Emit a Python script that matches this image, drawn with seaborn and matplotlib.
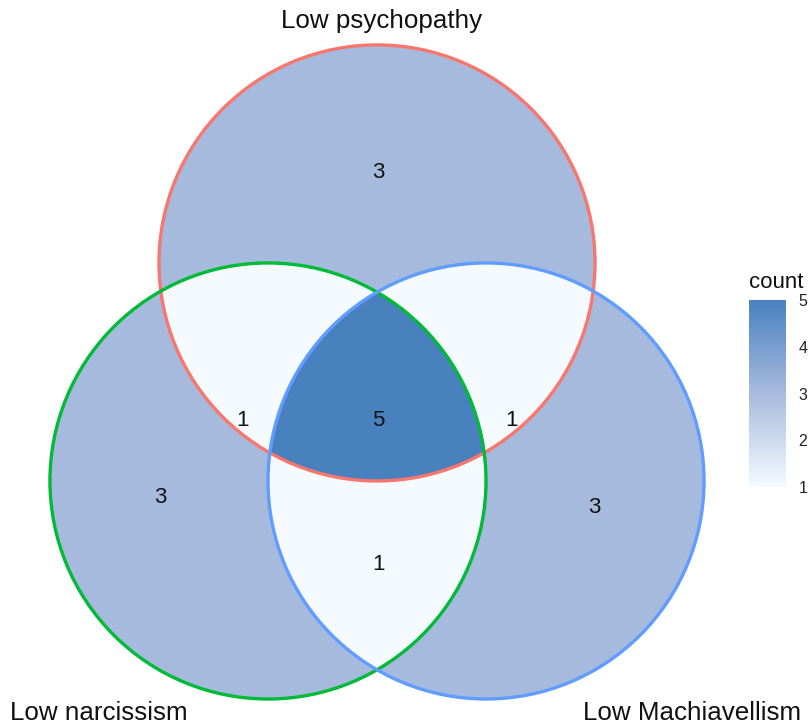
import matplotlib
matplotlib.use("Agg")
import matplotlib.pyplot as plt
from matplotlib.patches import Circle
import numpy as np
import seaborn as sns

# sets (order: top, left, right)
set_names = ["Low psychopathy", "Low narcissism", "Low Machiavellism"]
set_colors = ["#F8766D", "#00BA38", "#619CFF"]
circle_x = [0.5, 0.0, 1.0]
circle_y = [1.0, 0.0, 0.0]
radius = 1.0

# regions as membership in (top, left, right)
region_members = [(1, 0, 0), (0, 1, 0), (0, 0, 1),
                  (1, 1, 0), (1, 0, 1), (0, 1, 1), (1, 1, 1)]
region_counts = [3, 3, 3, 1, 1, 1, 5]
label_x = [0.505, -0.495, 1.495, -0.115, 1.119, 0.505, 0.505]
label_y = [1.415, -0.075, -0.120, 0.278, 0.278, -0.383, 0.278]

set_label_x = [0.522, -0.775, 1.945]
set_label_y = [2.110, -1.066, -1.066]

sns.set_theme(style="white")
plt.rcParams['font.family'] = ['Liberation Sans', 'DejaVu Sans']

cmap = sns.blend_palette(["#F4FAFE", "#A7BBDF", "#4981BF"], as_cmap=True)

fig = plt.figure(figsize=(8.12, 7.28), dpi=100)
ax = fig.add_axes([0, 0, 1, 1])
xlim = (-1.229, 2.495)
ylim = (-1.133, 2.206)

# rasterise region counts
xs = np.linspace(xlim[0], xlim[1], 1600)
ys = np.linspace(ylim[0], ylim[1], 1440)
gx, gy = np.meshgrid(xs, ys)
inside = [((gx - cx) ** 2 + (gy - cy) ** 2) <= radius ** 2
          for cx, cy in zip(circle_x, circle_y)]
grid = np.full(gx.shape, np.nan)
for mem, cnt in zip(region_members, region_counts):
    mask = np.ones(gx.shape, dtype=bool)
    for flag, ins in zip(mem, inside):
        mask &= ins if flag else ~ins
    grid[mask] = cnt

im = ax.imshow(grid, cmap=cmap, vmin=1, vmax=5, origin="lower",
               extent=(xlim[0], xlim[1], ylim[0], ylim[1]),
               interpolation="nearest")

for cx, cy, col in zip(circle_x, circle_y, set_colors):
    ax.add_patch(Circle((cx, cy), radius, fill=False, edgecolor=col, lw=2.4))

for x, y, c in zip(label_x, label_y, region_counts):
    ax.text(x, y, str(c), ha="center", va="center", fontsize=16, color="#111111")

for x, y, name in zip(set_label_x, set_label_y, set_names):
    ax.text(x, y, name, ha="center", va="center", fontsize=18.7, color="#111111")

ax.set_xlim(*xlim)
ax.set_ylim(*ylim)
ax.set_aspect("equal")
ax.axis("off")

# colour bar legend
cax = fig.add_axes([749 / 812, 1 - 487 / 728, 37 / 812, 187 / 728])
cbar = fig.colorbar(im, cax=cax, ticks=[1, 2, 3, 4, 5])
cbar.outline.set_visible(False)
cax.tick_params(axis="y", direction="in", length=7, width=1, color="white",
                left=True, right=True, labelsize=11.5, labelcolor="#222222", pad=9)
cax.text(0, 1.04, "count", transform=cax.transAxes, ha="left", va="bottom",
         fontsize=16, color="#111111")

fig.savefig("out.png", dpi=100)
